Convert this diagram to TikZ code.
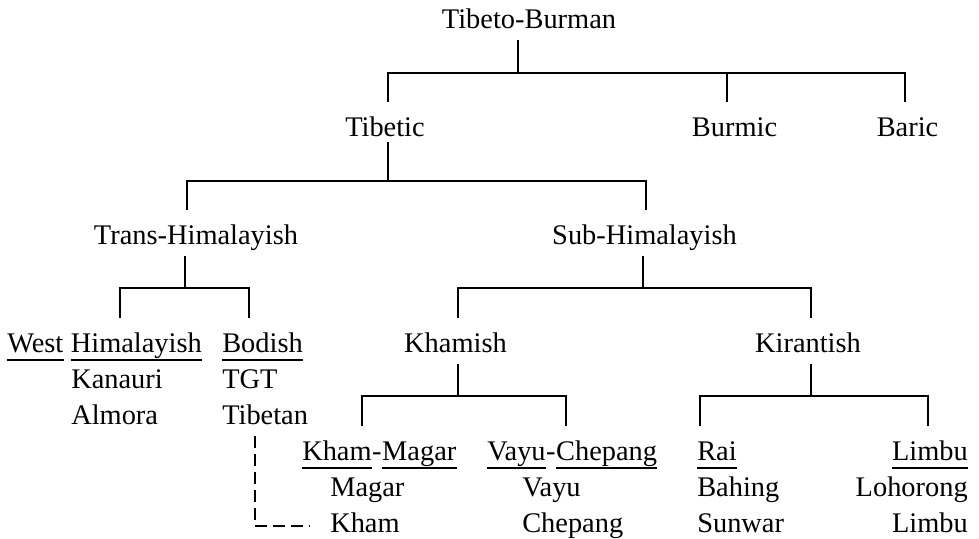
\documentclass[tikz,border=0pt]{standalone}
\usepackage{fontspec}
\setmainfont{Liberation Serif}
\usetikzlibrary{positioning}

\tikzset{
  lang/.style={font=\fontsize{21.3}{25}\selectfont, inner xsep=0pt, inner ysep=2.5pt,
    text height=23pt, text depth=6.5pt},
  branch/.style={line width=1.8pt},
  link/.style={line width=1.8pt, dash pattern=on 9pt off 4.5pt},
}

\begin{document}
\begin{tikzpicture}[x=0.75pt,y=-0.75pt]
    \useasboundingbox (0,0) rectangle (979,539);

    % upper levels
    \node[lang,anchor=base] (tb) at (529,28) {Tibeto-Burman};
    \node[lang,anchor=base,text depth=1.5pt] (tibetic) at (385,136) {Tibetic};
    \node[lang,anchor=base] (burmic) at (734.5,136) {Burmic};
    \node[lang,anchor=base] (baric) at (907.5,136) {Baric};
    \node[lang,anchor=base] (trans) at (196,244) {Trans-Himalayish};
    \node[lang,anchor=base] (sub) at (644.5,244) {Sub-Himalayish};
    \node[lang,anchor=base] (khamish) at (455.5,352) {Khamish};
    \node[lang,anchor=base] (kirantish) at (808,352) {Kirantish};

    % Trans-Himalayish branch
    \node[lang,anchor=base west] (west) at (7,352) {West};
    \node[lang,right=5.25pt of west] (himal) {Himalayish};
    \node[lang,anchor=base west] (bodish) at (222,352) {Bodish};
    \node[lang,anchor=base west] (kanauri) at (71,388) {Kanauri};
    \node[lang,anchor=base west] (almora) at (71,424) {Almora};
    \node[lang,anchor=base west] (tgt) at (222,388) {TGT};
    \node[lang,anchor=base west] (tibetan) at (222,424) {Tibetan};

    % Khamish branch
    \node[lang,anchor=base west] (kham) at (302,460) {Kham};
    \node[lang,right=0pt of kham] (hyA) {-};
    \node[lang,right=0pt of hyA] (magar) {Magar};
    \node[lang,anchor=base west] (magarL) at (330,496) {Magar};
    \node[lang,anchor=base west] (khamL) at (330,532) {Kham};
    \node[lang,anchor=base west] (vayu) at (487,460) {Vayu};
    \node[lang,right=0pt of vayu] (hyB) {-};
    \node[lang,right=0pt of hyB] (chepang) {Chepang};
    \node[lang,anchor=base west] (vayuL) at (522,496) {Vayu};
    \node[lang,anchor=base west] (chepangL) at (522,532) {Chepang};

    % Kirantish branch
    \node[lang,anchor=base west] (rai) at (697,460) {Rai};
    \node[lang,anchor=base west] (bahing) at (697,496) {Bahing};
    \node[lang,anchor=base west] (sunwar) at (697,532) {Sunwar};
    \node[lang,anchor=base east] (limbu) at (968,460) {Limbu};
    \node[lang,anchor=base east] (lohorong) at (968,496) {Lohorong};
    \node[lang,anchor=base east] (limbuL) at (968,532) {Limbu};

    % bar ends
    \coordinate (j1) at (518,73);
    \coordinate (b1l) at (388,73);
    \coordinate (b1m) at (727,73);
    \coordinate (b1r) at (905,73);
    \coordinate (j2) at (388,181);
    \coordinate (b2l) at (187,181);
    \coordinate (b2r) at (646,181);
    \coordinate (j3a) at (185,288);
    \coordinate (b3al) at (120,288);
    \coordinate (b3ar) at (249,288);
    \coordinate (j3b) at (643,288);
    \coordinate (b3bl) at (458,288);
    \coordinate (b3br) at (811,288);
    \coordinate (j4a) at (458,396);
    \coordinate (b4al) at (362,396);
    \coordinate (b4ar) at (566,396);
    \coordinate (j4b) at (811,396);
    \coordinate (b4bl) at (700,396);
    \coordinate (b4br) at (928,396);

    % tree
    \draw[branch] (tb.south -| j1) -- (j1);
    \draw[branch] (tibetic.north -| b1l) -- (b1l) -- (b1r) -- (baric.north -| b1r);
    \draw[branch] (b1m) -- (burmic.north -| b1m);

    \draw[branch] (tibetic.south -| j2) -- (j2);
    \draw[branch] (trans.north -| b2l) -- (b2l) -- (b2r) -- (sub.north -| b2r);

    \draw[branch] (trans.south -| j3a) -- (j3a);
    \draw[branch] (himal.north -| b3al) -- (b3al) -- (b3ar) -- (bodish.north -| b3ar);

    \draw[branch] (sub.south -| j3b) -- (j3b);
    \draw[branch] (khamish.north -| b3bl) -- (b3bl) -- (b3br) -- (kirantish.north -| b3br);

    \draw[branch] (khamish.south -| j4a) -- (j4a);
    \draw[branch] (kham.north -| b4al) -- (b4al) -- (b4ar) -- (chepang.north -| b4ar);

    \draw[branch] (kirantish.south -| j4b) -- (j4b);
    \draw[branch] (rai.north -| b4bl) -- (b4bl) -- (b4br) -- (limbu.north -| b4br);

    % underlined groups
    \foreach \w in {west,himal,bodish,kham,magar,vayu,chepang,rai,limbu}
        \draw[branch] ([yshift=-6pt]\w.base west) -- ([yshift=-6pt]\w.base east);

    % Tibetan - Kham
    \draw[link] ([xshift=-7.8pt]tibetan.south) |- ([xshift=-15pt,yshift=4.5pt]khamL.base west);
\end{tikzpicture}
\end{document}
